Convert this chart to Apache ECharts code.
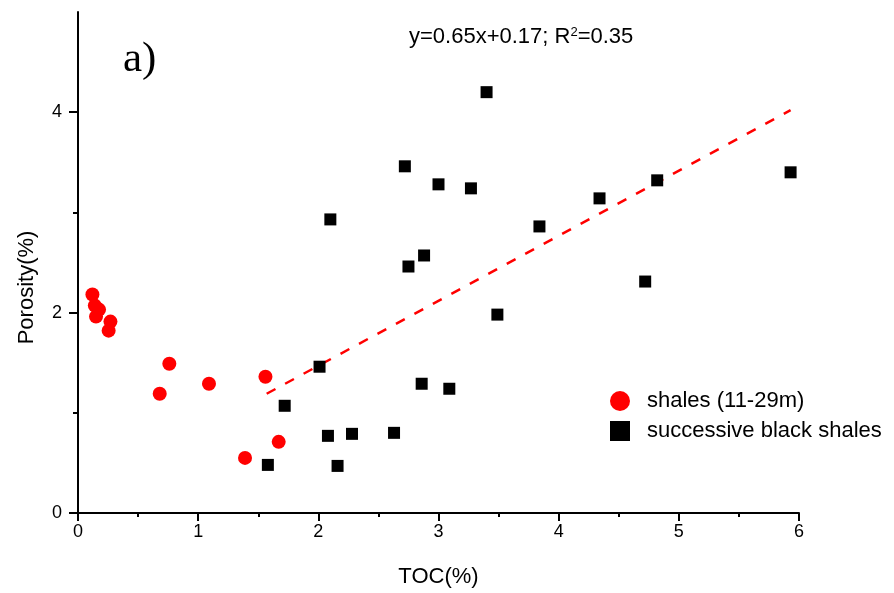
<!DOCTYPE html>
<html>
<head>
<meta charset="utf-8">
<script src="https://cdn.jsdelivr.net/npm/echarts@6/dist/echarts.min.js"></script>
<style>html,body{margin:0;padding:0;background:#fff}#c{width:894px;height:593px}</style>
</head>
<body>
<div id="c"></div>
<script>
// Data
const shalesTOC = [0.12, 0.14, 0.175, 0.15, 0.27, 0.255, 0.76, 0.68, 1.09, 1.56, 1.39, 1.67];
const shalesPor = [2.18, 2.07, 2.03, 1.96, 1.91, 1.82, 1.49, 1.19, 1.29, 1.36, 0.55, 0.71];
const blackTOC = [2.01, 1.72, 1.58, 2.08, 2.28, 2.16, 2.63, 2.86, 3.09, 2.10, 2.72, 3.00, 2.88, 2.75, 3.40, 3.27, 3.84, 4.34, 4.82, 5.93, 4.72, 3.49];
const blackPor = [1.46, 1.07, 0.48, 0.77, 0.79, 0.47, 0.80, 1.29, 1.24, 2.93, 3.46, 3.28, 2.57, 2.46, 4.20, 3.24, 2.86, 3.14, 3.32, 3.40, 2.31, 1.98];
const trendTOC = [1.57, 5.93];
const trendPor = [1.19, 4.02];
const xTicks = [0, 1, 2, 3, 4, 5, 6];
const yMajorTicks = [0, 2, 4];
const yMinorTicks = [1, 3];
const seriesNames = ['shales (11-29m)', 'successive black shales'];

const zip = (a, b) => a.map((v, i) => [v, b[i]]);
const FONT = 'Liberation Sans';

const chart = echarts.init(document.getElementById('c'), null, {renderer: 'canvas'});
chart.setOption({
  animation: false,
  backgroundColor: '#fff',
  grid: {left: 78, right: 95, top: 12, bottom: 78},
  xAxis: {
    type: 'value', min: 0, max: 6, interval: 1,
    name: 'TOC(%)', nameLocation: 'middle', nameGap: 53,
    nameTextStyle: {fontFamily: FONT, fontSize: 22, color: '#000'},
    axisLine: {onZero: false, lineStyle: {color: '#000', width: 2}},
    axisTick: {show: true, length: 8, lineStyle: {color: '#000', width: 2}, customValues: xTicks},
    minorTick: {show: true, splitNumber: 2, length: 4, lineStyle: {color: '#000', width: 2}},
    axisLabel: {fontFamily: FONT, fontSize: 18, color: '#000', margin: 10, customValues: xTicks},
    splitLine: {show: false}, minorSplitLine: {show: false}
  },
  yAxis: [{
    type: 'value', min: 0, max: 5,
    name: 'Porosity(%)', nameLocation: 'middle', nameGap: 40, nameRotate: 90,
    nameTextStyle: {fontFamily: FONT, fontSize: 22, color: '#000', padding: [0, 50, 0, 0]},
    axisLine: {onZero: false, lineStyle: {color: '#000', width: 2}},
    axisTick: {show: true, length: 9, lineStyle: {color: '#000', width: 2}, customValues: yMajorTicks},
    axisLabel: {fontFamily: FONT, fontSize: 18, color: '#000', margin: 16, customValues: yMajorTicks},
    splitLine: {show: false}
  }, {
    type: 'value', min: 0, max: 5, position: 'left',
    axisLine: {show: false},
    axisTick: {show: true, length: 5, lineStyle: {color: '#000', width: 2}, customValues: yMinorTicks},
    axisLabel: {show: false},
    splitLine: {show: false}
  }],
  legend: {
    orient: 'vertical', left: 605, top: 385, itemWidth: 20, itemHeight: 20, itemGap: 8,
    data: [{name: seriesNames[0], icon: 'circle'}, {name: seriesNames[1], icon: 'rect'}],
    textStyle: {fontFamily: FONT, fontSize: 22, color: '#000', padding: [0, 0, 0, 12]}
  },
  graphic: [
    {type: 'text', left: 123, top: 38, style: {text: 'a)', fontFamily: 'Liberation Serif', fontSize: 43, fill: '#000'}},
    {type: 'text', left: 409, top: 26, style: {
      text: '{a|y=0.65x+0.17; R}{s|2}{a|=0.35}',
      rich: {a: {fontFamily: FONT, fontSize: 22, fill: '#000'}, s: {fontFamily: FONT, fontSize: 13, fill: '#000', verticalAlign: 'top', padding: [0, 0, 8, 0]}}
    }}
  ],
  series: [{
    name: 'trend', type: 'line', data: zip(trendTOC, trendPor), showSymbol: false, symbol: 'none',
    lineStyle: {color: '#ff0000', width: 2.5, type: [10, 11]}, z: 1, silent: true
  }, {
    name: seriesNames[0], type: 'scatter', data: zip(shalesTOC, shalesPor),
    symbol: 'circle', symbolSize: 14, itemStyle: {color: '#ff0000', opacity: 1}, z: 3
  }, {
    name: seriesNames[1], type: 'scatter', data: zip(blackTOC, blackPor),
    symbol: 'rect', symbolSize: 12, itemStyle: {color: '#000', opacity: 1}, z: 2
  }]
});
</script>
</body>
</html>
